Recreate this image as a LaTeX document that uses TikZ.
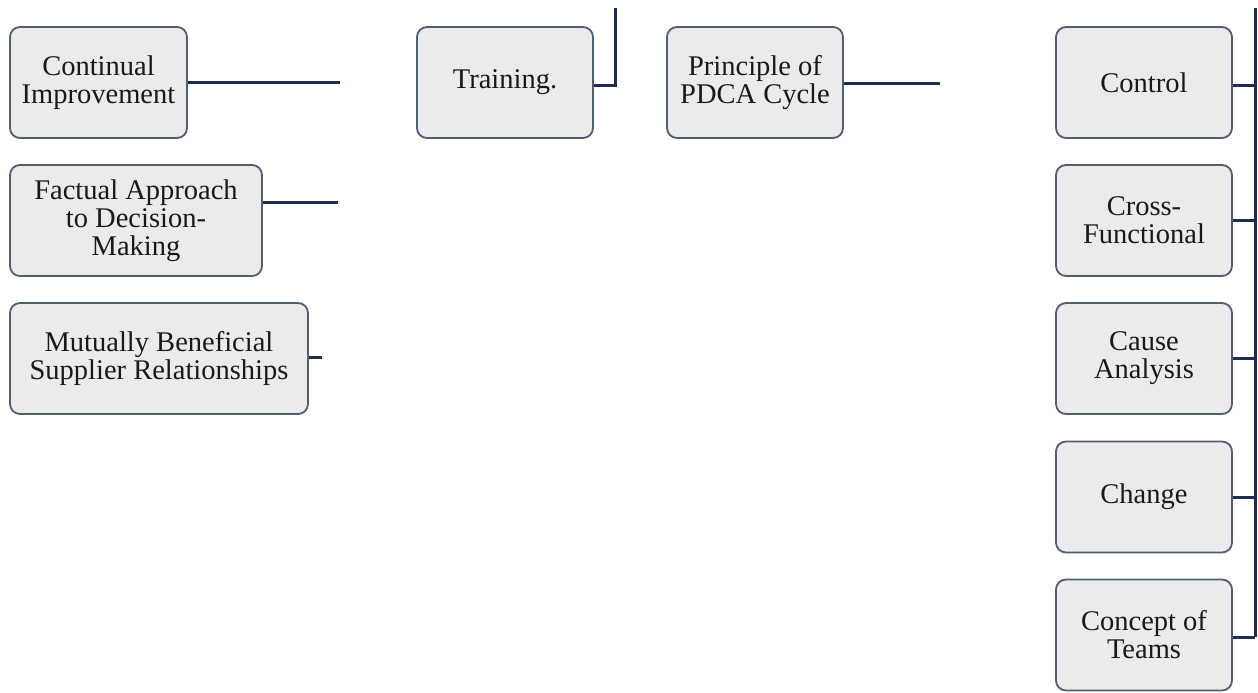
\documentclass[tikz,border=0pt]{standalone}
\usepackage{fontspec}
\setmainfont{LiberationSerif}[Extension=.ttf, UprightFont=*-Regular, BoldFont=*-Bold]
\begin{document}
\begin{tikzpicture}[x=1pt,y=-1pt,
  box/.style={draw=boxline, line width=1.8pt, fill=boxfill, rounded corners=10pt,
    minimum height=111pt, align=center, inner sep=0pt, text=black!90,
    font=\fontsize{28.5}{28}\selectfont},
  wbox/.style={box, minimum width=176pt},
  link/.style={draw=linkblue, line width=3pt}]
\definecolor{boxline}{HTML}{505E6E}
\definecolor{boxfill}{HTML}{EDEAEE}
\definecolor{linkblue}{HTML}{1E2D4F}
\useasboundingbox (0,0) rectangle (1258,693);
\fill[white] (0,0) rectangle (1258,693);

% left column
\node[box, minimum width=177pt] (cont) at (98.5,82.5) {Continual\\Improvement};
\node[box, minimum width=252pt] (fact) at (136,220.5) {Factual Approach\\to Decision-\\Making};
\node[box, minimum width=298pt] (mutu) at (159,358.5) {Mutually Beneficial\\Supplier Relationships};

% middle boxes
\node[wbox] (train) at (505,82.5) {Training.};
\node[wbox] (pdca) at (755,82.5) {Principle of\\PDCA Cycle};

% right column
\node[wbox] (ctrl) at (1144,82.5) {Control};
\node[wbox] (cross) at (1144,220.5) {Cross-\\Functional};
\node[wbox] (cause) at (1144,358.5) {Cause\\Analysis};
\node[wbox] (chg) at (1144,497) {Change};
\node[wbox] (team) at (1144,635) {Concept of\\Teams};

% free ends of the connectors
\coordinate (contEnd) at (340,82);
\coordinate (factEnd) at (338,202);
\coordinate (mutuEnd) at (322,357);
\coordinate (trainTop) at (615,8);
\coordinate (pdcaEnd) at (940,83);
\coordinate (busTop) at (1255,8);
\coordinate (busBot) at (1255,637);

\draw[link] (cont.east |- contEnd) -- (contEnd);
\draw[link] (fact.east |- factEnd) -- (factEnd);
\draw[link] (mutu.east |- mutuEnd) -- (mutuEnd);
\draw[link] (train.east |- 0,85) -| (trainTop);
\draw[link] (pdca.east |- pdcaEnd) -- (pdcaEnd);

\draw[link] (busTop) -- (busBot);
\draw[link] (ctrl.east |- 0,85) -- (busTop |- 0,85);
\draw[link] (cross.east) -- (busTop |- cross.east);
\draw[link] (cause.east) -- (busTop |- cause.east);
\draw[link] (chg.east) -- (busTop |- chg.east);
\draw[link] (team.east |- busBot) -- (busBot);
\end{tikzpicture}
\end{document}
